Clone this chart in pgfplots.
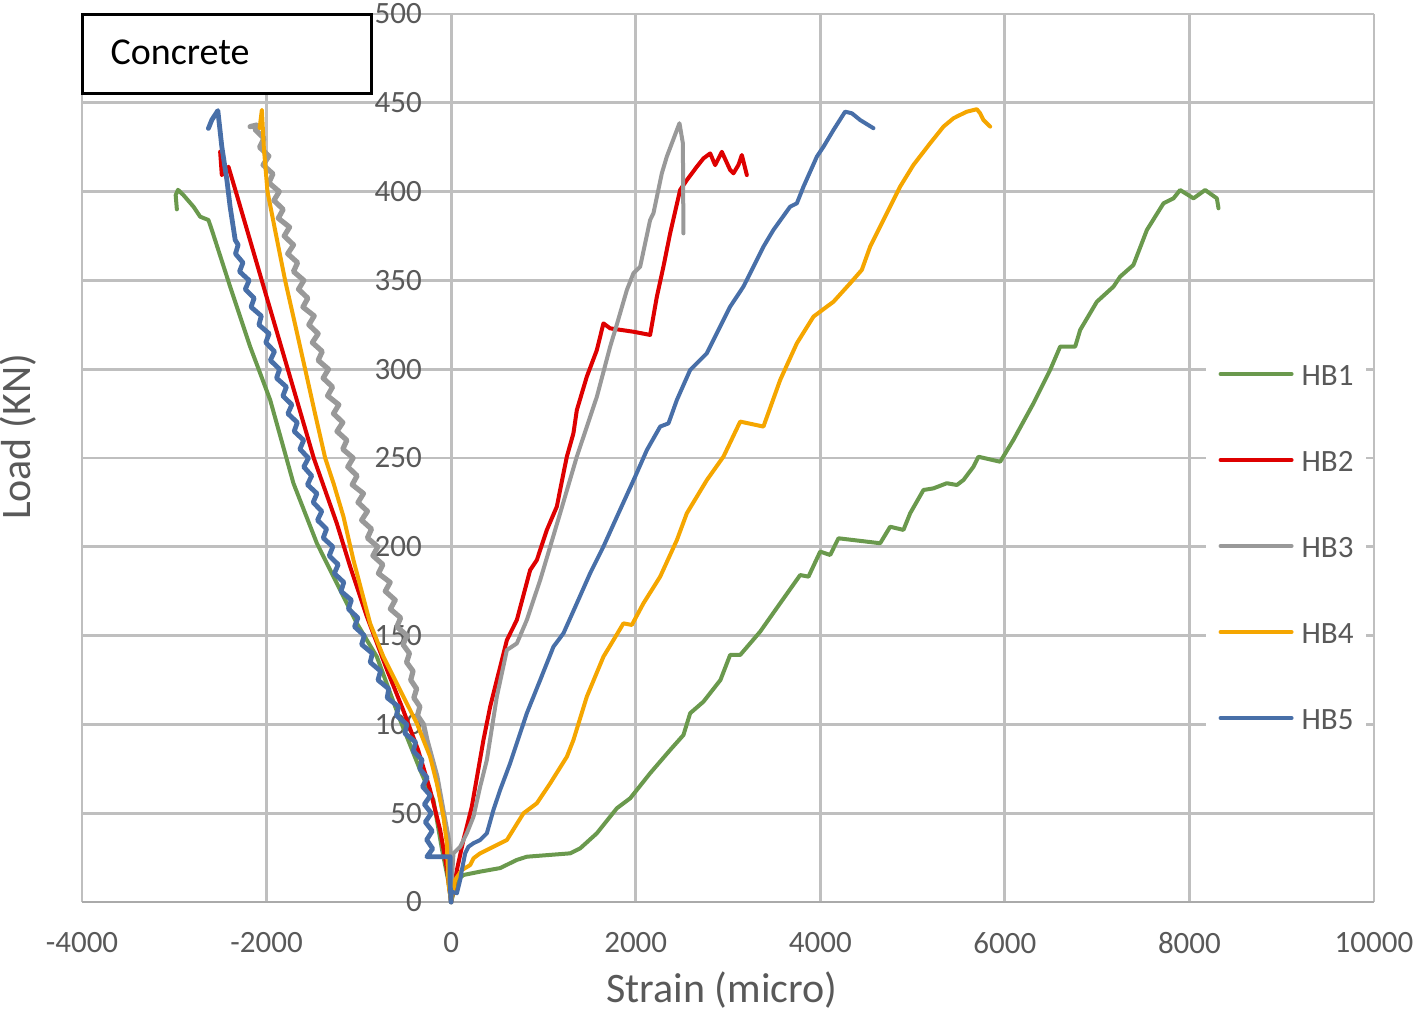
\documentclass[border=0pt]{standalone}
\usepackage{fontspec}
\setmainfont{Carlito}
\usepackage{pgfplots}
\pgfplotsset{compat=1.18}

\definecolor{hbgreen}{RGB}{106,153,77}
\definecolor{hbred}{RGB}{222,0,0}
\definecolor{hbgray}{RGB}{153,153,153}
\definecolor{hborange}{RGB}{245,166,0}
\definecolor{hbblue}{RGB}{72,111,168}
\definecolor{gridgray}{RGB}{191,191,191}
\definecolor{axisgray}{RGB}{170,170,170}
\definecolor{txtgray}{RGB}{89,89,89}

\begin{document}
\begin{tikzpicture}
\useasboundingbox (-41pt,-55pt) rectangle (668pt,451pt);
\begin{axis}[
    at={(0pt,0pt)}, anchor=south west,
    scale only axis, width=646pt, height=444pt,
    xmin=-4000, xmax=10000, ymin=0, ymax=500,
    enlargelimits=false, clip=false,
    scaled x ticks=false, scaled y ticks=false,
    axis x line=bottom, axis y line=middle,
    axis line style={-},
    x axis line style={draw=axisgray, line width=1.4pt},
    y axis line style={draw=gridgray, line width=1.4pt},
    hide obscured x ticks=false, hide obscured y ticks=false,
    grid=major,
    major grid style={draw=gridgray, line width=1.4pt},
    major tick length=0pt,
    xtick={-4000,-2000,0,2000,4000,6000,8000,10000},
    xticklabels={-4000,-2000,0,2000,4000,6000,8000,10000},
    ytick={0,50,100,150,200,250,300,350,400,450,500},
    yticklabels={0,50,100,150,200,250,300,350,400,450,500},
    ticklabel style={font=\fontsize{15.5}{18}\selectfont, text=txtgray, inner sep=0pt},
    xticklabel style={anchor=center, yshift=-20.5pt},
    yticklabel style={anchor=east, xshift=-14.5pt},
    every axis x label/.style={at={(rel axis cs:0.4954,-0.0991)}, anchor=center},
    every axis y label/.style={at={(rel axis cs:-0.0495,0.5236)}, anchor=center, rotate=90},
    label style={font=\fontsize{21}{25}\selectfont, text=txtgray},
    xlabel={Strain (micro)},
    ylabel={Load (KN)},
    legend style={
        at={(rel axis cs:0.9319,0.4009)}, anchor=center,
        draw=none, fill=white,
        inner xsep=6.5pt, inner ysep=16pt,
        font=\fontsize{15.5}{18}\selectfont, text=txtgray,
        row sep=32pt, column sep=4pt,
        nodes={inner sep=0pt, text height=11pt, text depth=0pt},
    },
    legend cell align=left,
    legend image code/.code={\draw[#1, line width=2pt, line cap=round] (0pt,0pt) -- (35.5pt,0pt);},
    every axis plot/.append style={line width=2pt, line join=round, line cap=round},
]

% HB1
\addplot[hbgreen] table {
x y
0 0
60 12
133 15.2
314 17.1
531 19.1
712 23.7
820 25.5
1289 27.4
1398 30.2
1579 38.7
1796 52.8
1940 58.4
2156 72.5
2373 85.6
2517 94.0
2590 106.3
2734 112.8
2918 125.0
3023 139.1
3132 139.1
3348 152.2
3565 168.2
3782 184.1
3872 183.2
3999 197.3
4107 195.4
4197 204.8
4649 202.0
4757 211.3
4901 209.5
4974 218.9
5118 232.0
5226 232.9
5371 235.8
5480 234.8
5551 237.6
5660 245.1
5714 250.7
5949 247.9
6093 260.2
6310 280.8
6491 299.6
6599 312.7
6762 312.7
6816 322.1
6997 338.0
7177 346.5
7249 352.1
7393 358.7
7539 378.4
7719 393.4
7827 396.2
7899 400.9
8044 396.2
8170 400.9
8297 396.2
8315 390.6
};
\addlegendentry{HB1}
\addplot[hbgreen, forget plot] table {
x y
0 0
-33 12.4
-98 29.3
-192 57.4
-336 74.3
-553 102.5
-805 138.1
-1022 156.9
-1239 179.5
-1455 202.0
-1709 235.8
-1961 282.7
-2178 312.7
-2395 346.5
-2593 378.4
-2630 384.0
-2720 385.9
-2792 391.5
-2900 398
-2960 401
-2985 398
-2972 390
};

% HB2
\addplot[hbred] table {
x y
0 0
62 18.0
133 34.9
224 53.7
350 91.2
423 110.0
604 147.5
712 158.8
856 186.9
929 192.6
1037 209.5
1145 222.6
1217 241.4
1254 250.8
1325 263.9
1362 277.0
1470 295.8
1579 310.8
1650 325.8
1723 323.0
1975 321.1
2156 319.3
2229 340.8
2300 357.7
2373 376.5
2481 400.9
2554 406.5
2662 414.0
2734 418.7
2807 421.5
2861 414.9
2933 422.4
3023 412.2
3059 410.3
3113 415.0
3150 420.6
3204 409.3
};
\addlegendentry{HB2}
\addplot[hbred, forget plot] table {
x y
0 0
-43 18.0
-119 40.5
-228 63.1
-358 85.6
-520 108.1
-694 130.6
-913 160.7
-1094 188.8
-1239 213.2
-1489 250
-1770 300
-2052 350
-2333 400
-2413 414
-2485 409.3
-2503 422.5
};

% HB3
\addplot[hbgray] table {
x y
0 0
8 12.4
25 27.4
98 31.1
170 38.7
242 48.0
314 64.9
387 80.0
495 115.6
604 141.9
712 145.6
820 158.8
965 181.3
1073 200.1
1181 218.9
1362 250.8
1579 284.5
1723 312.7
1800 326
1904 344.6
1975 354.0
2048 357.7
2156 384.0
2192 387.8
2283 410.3
2337 419.7
2474 438.5
2511 427.2
2517 376.5
};
\addlegendentry{HB3}
\addplot[hbgray, forget plot, line width=2.6pt] table {
x y
0 0
-11 25.5
-29 34.9
-83 49.9
-155 70.6
-263 91.2
-300 100
-365 105
-339 110
-404 115
-374 120
-438 125
-413 130
-483 135
-452 140
-522 145
-477 150
-589 155
-547 160
-659 165
-606 170
-714 175
-661 180
-788 185
-740 190
-848 195
-795 200
-907 205
-863 210
-970 215
-907 220
-1009 225
-950 230
-1072 235
-1019 240
-1120 245
-1062 250
-1174 255
-1130 260
-1237 265
-1174 270
-1275 275
-1217 280
-1339 285
-1285 290
-1387 295
-1329 300
-1441 305
-1397 310
-1504 315
-1441 320
-1542 325
-1484 330
-1606 335
-1553 340
-1654 345
-1596 350
-1708 355
-1664 360
-1771 365
-1708 370
-1809 375
-1751 380
-1873 385
-1820 390
-1921 395
-1863 400
-1975 405
-1931 410
-2038 415
-1975 420
-2076 425
-2028 430
-2125 435
-2105 437.5
-2178 436.6
};

% HB4
\addplot[hborange] table {
x y
0 0
43 12.4
116 18.0
206 20.8
242 24.6
314 27.4
458 31.1
604 34.9
783 49.9
929 55.6
1073 66.8
1254 81.8
1325 91.2
1470 115.6
1650 138.1
1759 147.5
1867 156.9
1958 156.0
2084 168.2
2265 183.2
2446 203.8
2554 218.9
2771 237.6
2951 250.8
3132 270.5
3384 267.7
3565 293.9
3746 314.6
3926 329.6
4143 338.0
4324 348.4
4450 355.9
4540 369.0
4684 384.0
4865 402.8
5009 415.0
5190 427.2
5335 436.6
5443 441.3
5516 443.2
5588 445.0
5696 446.4
5732 444.1
5768 440.3
5841 436.6
};
\addlegendentry{HB4}
\addplot[hborange, forget plot] table {
x y
0 0
-29 10.5
-47 33.1
-83 48.0
-155 66.8
-228 81.8
-372 100.6
-517 115.6
-734 138.1
-878 156.9
-1059 192.6
-1167 217.0
-1270 235
-1365 250
-1475 275
-1582 300
-1690 325
-1799 350
-1895 375
-1990 400
-2030 425
-2051 446
-2075 435.8
};

% HB5
\addplot[hbblue] table {
x y
0 0
8 5.8
62 4.9
98 12.4
116 18.0
152 27.4
187 31.1
242 33.1
314 34.9
387 38.7
458 51.8
531 63.1
639 78.1
820 106.3
965 125.0
1109 143.8
1217 151.3
1362 168.2
1506 185.1
1650 200.1
1796 216.9
1994 239.5
2121 254.5
2265 267.7
2355 269.5
2446 282.7
2590 299.6
2771 309.0
2915 324.0
3023 335.2
3167 346.5
3240 354.0
3384 369.0
3492 378.4
3673 391.5
3746 393.4
3818 402.8
3963 419.7
4035 425.3
4143 434.7
4269 445.0
4342 444.1
4432 440.3
4576 435.7
};
\addlegendentry{HB5}
\addplot[hbblue, forget plot, line width=2.4pt] table {
x y
0 0
-11 10
-11 25.5
-263 25.5
-200 30
-265 35
-205 40
-280 45
-215 50
-290 55
-225 60
-310 65
-260 70
-340 75
-315 80
-410 85
-385 90
-502 95
-480 100
-593 105
-570 110
-693 115
-676 120
-793 125
-765 130
-877 135
-854 140
-970 145
-941 150
-1047 155
-1010 160
-1113 165
-1081 170
-1194 175
-1163 180
-1266 185
-1224 190
-1321 195
-1282 200
-1386 205
-1350 210
-1448 215
-1402 220
-1495 225
-1454 230
-1557 235
-1511 240
-1597 245
-1546 250
-1639 255
-1598 260
-1701 265
-1667 270
-1769 275
-1726 280
-1823 285
-1785 290
-1892 295
-1859 300
-1959 305
-1914 310
-2009 315
-1972 320
-2083 325
-2057 330
-2168 335
-2135 340
-2231 345
-2189 350
-2293 355
-2256 360
-2337 365
-2308 370
-2340 372.8
-2395 391.5
-2430 406.5
-2485 425.3
-2528 445.6
-2593 440.4
-2630 435.6
};

% label box
\draw[black, line width=1.5pt, fill=white] (axis cs:-4000,455) rectangle (axis cs:-858,500);
\node[anchor=west, inner sep=0pt, font=\fontsize{19}{22}\selectfont] at (axis cs:-3695,478.6) {Concrete};
\end{axis}
\end{tikzpicture}
\end{document}
